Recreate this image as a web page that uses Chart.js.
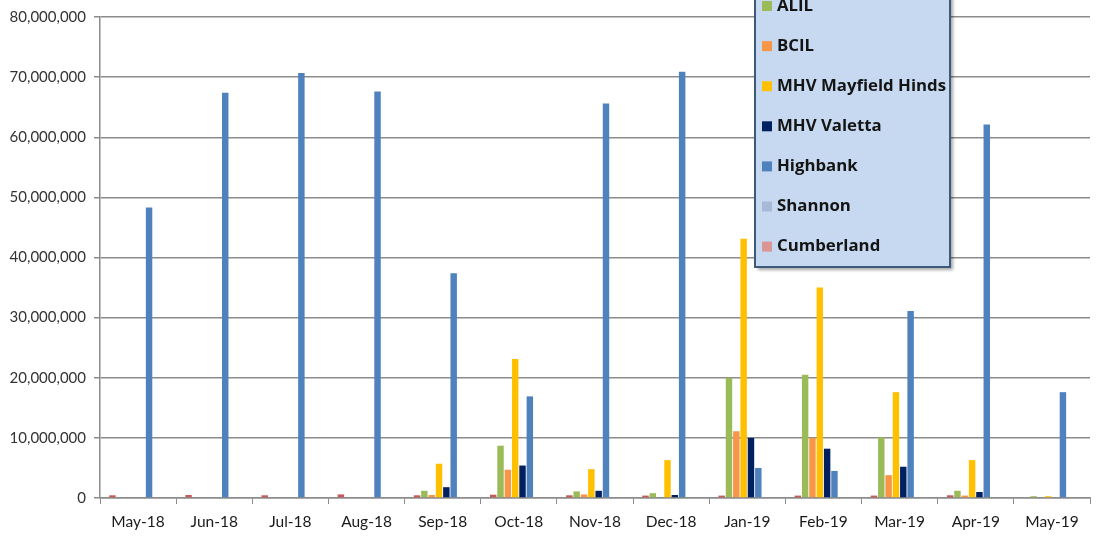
<!DOCTYPE html>
<html>
<head>
<meta charset="utf-8">
<script src="https://cdn.jsdelivr.net/npm/chart.js@4/dist/chart.umd.min.js"></script>
<style>
  html, body { margin: 0; padding: 0; background: #ffffff; }
  #wrap { position: relative; width: 1096px; height: 536px; }
</style>
</head>
<body>
<div id="wrap"><canvas id="c" width="1096" height="536"></canvas></div>
<script>
// Monthly totals per site
const categories = ['May-18','Jun-18','Jul-18','Aug-18','Sep-18','Oct-18','Nov-18','Dec-18','Jan-19','Feb-19','Mar-19','Apr-19','May-19'];

const other      = [450000, 500000, 450000, 600000, 450000, 550000, 450000, 400000, 400000, 400000, 400000, 450000, 0];
const alil       = [0, 0, 0, 0, 1200000, 8700000, 1100000, 800000, 20000000, 20500000, 10100000, 1200000, 300000];
const bcil       = [0, 0, 0, 0, 500000, 4700000, 600000, 0, 11100000, 10000000, 3800000, 400000, 0];
const mhvMayfield= [0, 0, 0, 0, 5700000, 23100000, 4800000, 6300000, 43100000, 35000000, 17600000, 6300000, 300000];
const mhvValetta = [0, 0, 0, 0, 1800000, 5400000, 1200000, 500000, 10000000, 8200000, 5200000, 1000000, 0];
const highbank   = [48300000, 67400000, 70700000, 67600000, 37400000, 16900000, 65600000, 70900000, 5000000, 4500000, 31100000, 62100000, 17600000];
const shannon    = [0, 0, 0, 0, 0, 0, 0, 0, 0, 0, 0, 0, 0];
const cumberland = [0, 0, 0, 0, 0, 0, 0, 0, 0, 0, 150000, 0, 0];

const yTicks = [0, 10000000, 20000000, 30000000, 40000000, 50000000, 60000000, 70000000, 80000000];

const datasets = [
  { label: 'Other',              data: other,       backgroundColor: '#C55A57' },
  { label: 'ALIL',               data: alil,        backgroundColor: '#9BBB59' },
  { label: 'BCIL',               data: bcil,        backgroundColor: '#F79646' },
  { label: 'MHV Mayfield Hinds', data: mhvMayfield, backgroundColor: '#FFC000' },
  { label: 'MHV Valetta',        data: mhvValetta,  backgroundColor: '#002060' },
  { label: 'Highbank',           data: highbank,    backgroundColor: '#4F81BD' },
  { label: 'Shannon',            data: shannon,     backgroundColor: '#A7B9D6' },
  { label: 'Cumberland',         data: cumberland,  backgroundColor: '#D99694' }
];

// Boxed legend drawn over the plot area; its top runs past the canvas edge
const boxLegend = {
  id: 'boxLegend',
  afterDraw(chart) {
    const ctx = chart.ctx;
    const x0 = 755, x1 = 950, y0 = -60, y1 = 267;
    ctx.save();
    ctx.shadowColor = 'rgba(0,0,0,0.35)';
    ctx.shadowOffsetX = 3;
    ctx.shadowOffsetY = 3;
    ctx.shadowBlur = 3;
    ctx.fillStyle = '#C6D9F1';
    ctx.fillRect(x0, y0, x1 - x0, y1 - y0);
    ctx.restore();
    ctx.save();
    ctx.strokeStyle = '#3E5A7A';
    ctx.lineWidth = 2;
    ctx.strokeRect(x0, y0, x1 - x0, y1 - y0);
    ctx.font = 'bold 16.8px "Open Sans", sans-serif';
    ctx.textBaseline = 'middle';
    ctx.textAlign = 'left';
    chart.data.datasets.forEach((ds, i) => {
      const cy = 6 + (i - 1) * 40.1;
      ctx.fillStyle = ds.backgroundColor;
      ctx.fillRect(762, cy - 5, 10, 10);
      ctx.fillStyle = '#141414';
      ctx.fillText(ds.label, 777, cy);
    });
    ctx.restore();
  }
};

new Chart(document.getElementById('c'), {
  type: 'bar',
  data: { labels: categories, datasets: datasets },
  plugins: [boxLegend],
  options: {
    responsive: false,
    animation: false,
    events: [],
    layout: { padding: { top: 17, right: 6, left: 0, bottom: 0 } },
    datasets: { bar: { categoryPercentage: 0.77, barPercentage: 0.88 } },
    plugins: { legend: { display: false }, tooltip: { enabled: false } },
    scales: {
      x: {
        grid: { display: true, drawOnChartArea: false, offset: true, color: '#8C8C8C', tickLength: 6, lineWidth: 1 },
        border: { color: '#8C8C8C', width: 1.5 },
        ticks: { color: '#1a1a1a', font: { family: 'Lato, sans-serif', size: 15.5 }, padding: 9, maxRotation: 0 },
        afterFit(scale) { scale.height = 38; }
      },
      y: {
        min: 0, max: 80000000,
        afterBuildTicks(scale) { scale.ticks = yTicks.map(v => ({ value: v })); },
        grid: { color: '#8C8C8C', lineWidth: 1.5, tickLength: 6 },
        border: { color: '#8C8C8C', width: 1.5 },
        ticks: {
          color: '#333333',
          font: { family: 'Lato, sans-serif', size: 15 },
          padding: 8,
          callback: v => v.toLocaleString('en-US')
        },
        afterFit(scale) { scale.width = 100; }
      }
    }
  }
});
</script>
</body>
</html>
